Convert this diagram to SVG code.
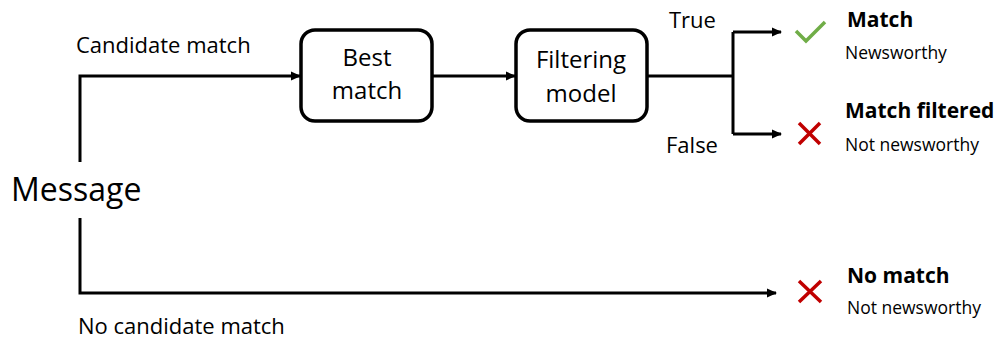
<svg xmlns="http://www.w3.org/2000/svg" width="1002" height="342" viewBox="0 0 1002 342">
<defs>
<marker id="ah" markerWidth="10" markerHeight="10" refX="9" refY="5" orient="auto" markerUnits="userSpaceOnUse">
<path d="M0,0.5 L10,5 L0,9.5 Z" fill="#000"/>
</marker>
<style>
text{font-family:"Open Sans","Liberation Sans",sans-serif;fill:#000}
.lbl{font-size:22px}
.box{fill:#fff;stroke:#000;stroke-width:3.5}
.bt{font-size:24px;text-anchor:middle}
.title{font-size:21px;font-weight:bold}
.sub{font-size:17.5px}
.ln{fill:none;stroke:#000;stroke-width:3}
</style>
</defs>
<rect width="1002" height="342" fill="#fff"/>
<g id="connectors">
<path class="ln" d="M80,162 V76 H300" marker-end="url(#ah)"/>
<path class="ln" d="M432,76 H515" marker-end="url(#ah)"/>
<path class="ln" d="M647,76 H733"/>
<path class="ln" d="M733,32 V134"/>
<path class="ln" d="M733,32 H781" marker-end="url(#ah)"/>
<path class="ln" d="M733,134 H781" marker-end="url(#ah)"/>
<path class="ln" d="M80,218 V293 H776" marker-end="url(#ah)"/>
</g>
<g id="message"><text x="11" y="201" style="font-size:32px">Message</text></g>
<g id="label-candidate"><text class="lbl" x="76" y="53">Candidate match</text></g>
<g id="label-nocandidate"><text class="lbl" x="78" y="334">No candidate match</text></g>
<g id="best-match">
<rect class="box" x="301" y="30" width="131" height="91" rx="14"/>
<text class="bt" x="367" y="66">Best</text>
<text class="bt" x="367" y="99">match</text>
</g>
<g id="filtering-model">
<rect class="box" x="516" y="30" width="131" height="91" rx="14"/>
<text class="bt" x="581" y="68">Filtering</text>
<text class="bt" x="581" y="102">model</text>
</g>
<g id="label-true"><text class="lbl" x="669" y="28">True</text></g>
<g id="label-false"><text class="lbl" x="666" y="153">False</text></g>
<g id="match">
<path d="M796,31 L806,41 L825,22" fill="none" stroke="#70AD47" stroke-width="3.5"/>
<text class="title" x="847" y="27">Match</text>
<text class="sub" x="845" y="59">Newsworthy</text>
</g>
<g id="match-filtered">
<path d="M799,123 L820,144 M820,123 L799,144" fill="none" stroke="#C00000" stroke-width="3.5"/>
<text class="title" x="845" y="118">Match filtered</text>
<text class="sub" x="845" y="151">Not newsworthy</text>
</g>
<g id="no-match">
<path d="M799,281 L821,302 M821,281 L799,302" fill="none" stroke="#C00000" stroke-width="3.5"/>
<text class="title" x="847" y="283">No match</text>
<text class="sub" x="847" y="314">Not newsworthy</text>
</g>
</svg>
